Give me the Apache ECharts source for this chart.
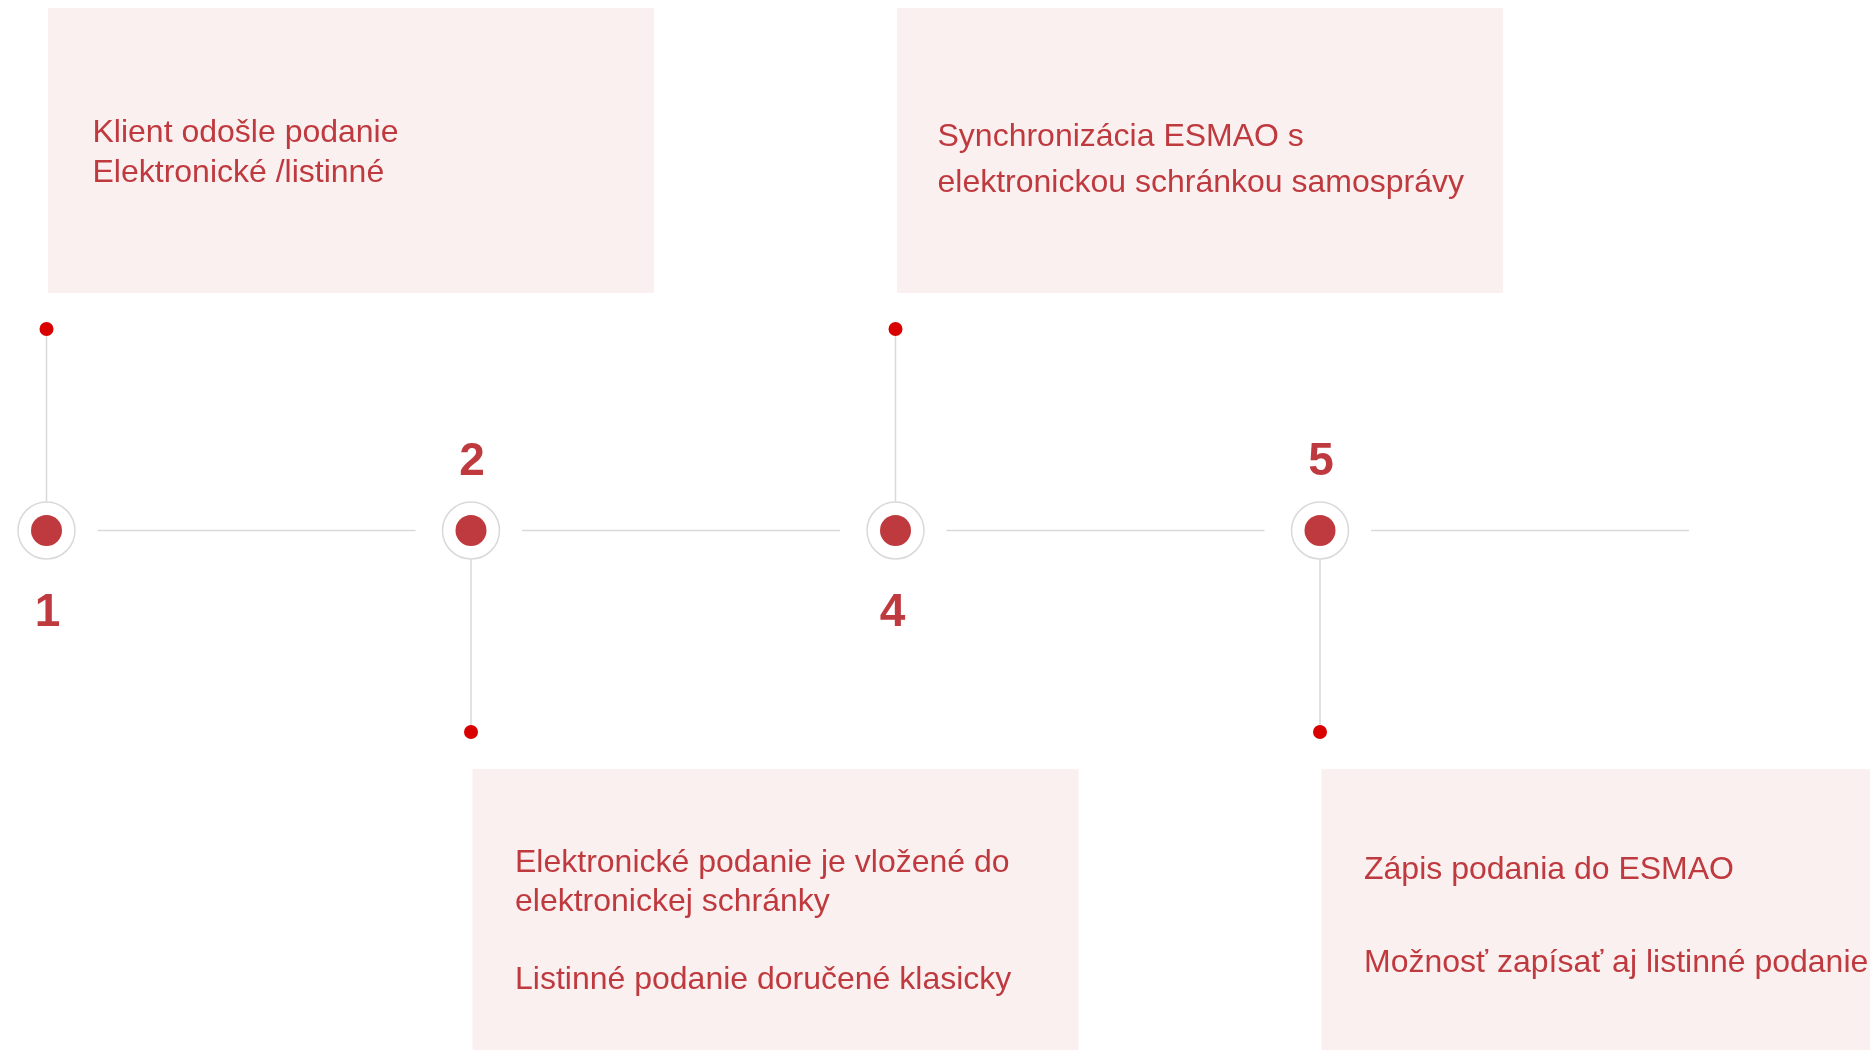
<!DOCTYPE html>
<html>
<head>
<meta charset="utf-8">
<title>Timeline</title>
<script src="https://cdn.jsdelivr.net/npm/echarts@6/dist/echarts.min.js"></script>
<style>
  html, body { margin: 0; padding: 0; background: #ffffff; }
  #main-chart { width: 1870px; height: 1050px; }
</style>
</head>
<body>
<div id="main-chart"></div>
<script>
// Steps of the filing process, shown as a horizontal timeline with callout cards

const stepNumbers = ['1', '2', '4', '5'];
const stepSlots = [0, 1, 2, 3];
// 1 = card above the line, -1 = card below the line
const calloutSide = [1, -1, 1, -1];
const calloutTexts = [
    'Klient odošle podanie\nElektronické /listinné',
    'Elektronické podanie je vložené do\nelektronickej schránky\n\nListinné podanie doručené klasicky',
    'Synchronizácia ESMAO s\nelektronickou schránkou samosprávy',
    'Zápis podania do ESMAO\n\nMožnosť zapísať aj listinné podanie'
];

document.addEventListener('DOMContentLoaded', function () {
    var myChart = echarts.init(document.getElementById('main-chart'));

    var red = '#bf3a3f';
    var grey = '#d9d9d9';
    var font = 'Liberation Sans, Arial, sans-serif';
    // per-card text line spacing and small vertical nudges
    var lineHeights = [40, 39, 46, 46.5];
    var textShift = [2.5, 10.5, 9.5, 5];
    var textIndent = [46, 44, 42, 44];

    function renderStep(params, api) {
        var i = params.dataIndex;
        var side = api.value(1);
        var up = side > 0;
        var c = api.coord([api.value(0), 0]);
        var d = api.coord([api.value(0), side]);
        var ringR = 28.5;
        var cardW = 606;
        var cardH = 285;
        var cardY = up ? d[1] - 36 - cardH : d[1] + 37;

        return {
            type: 'group',
            children: [
                {
                    type: 'rect',
                    shape: { x: c[0] + 1.5, y: cardY, width: cardW, height: cardH },
                    style: { fill: '#fbf0f0' }
                },
                {
                    type: 'text',
                    style: {
                        x: c[0] + textIndent[i],
                        y: cardY + cardH / 2 + textShift[i],
                        text: calloutTexts[i],
                        fill: red,
                        fontSize: 32,
                        fontFamily: font,
                        align: 'left',
                        verticalAlign: 'middle',
                        lineHeight: lineHeights[i]
                    }
                },
                {
                    type: 'line',
                    shape: { x1: c[0] + 51, y1: c[1], x2: c[0] + 369, y2: c[1] },
                    style: { stroke: grey, lineWidth: 1.5 }
                },
                {
                    type: 'line',
                    shape: { x1: c[0], y1: c[1] - side * ringR, x2: d[0], y2: d[1] },
                    style: { stroke: grey, lineWidth: 1.5 }
                },
                {
                    type: 'circle',
                    shape: { cx: c[0], cy: c[1], r: ringR },
                    style: { fill: '#ffffff', stroke: grey, lineWidth: 1.5 }
                },
                {
                    type: 'circle',
                    shape: { cx: c[0], cy: c[1], r: 15.5 },
                    style: { fill: red }
                },
                {
                    type: 'circle',
                    shape: { cx: d[0], cy: d[1], r: 7 },
                    style: { fill: '#d90000' }
                },
                {
                    type: 'text',
                    style: {
                        x: c[0] + (i === 2 ? -3 : 1),
                        y: c[1] + (up ? 83 : -68),
                        text: stepNumbers[i],
                        fill: red,
                        fontSize: 46,
                        fontWeight: 'bold',
                        fontFamily: font,
                        align: 'center',
                        verticalAlign: 'middle'
                    }
                }
            ]
        };
    }

    var option = {
        animation: false,
        backgroundColor: '#ffffff',
        grid: { left: 46.5, width: 1273.5, top: 329, height: 403 },
        xAxis: { type: 'value', min: 0, max: 3, show: false },
        yAxis: { type: 'value', min: -1, max: 1, show: false },
        series: [{
            type: 'custom',
            clip: false,
            renderItem: renderStep,
            data: stepSlots.map(function (s, i) { return [s, calloutSide[i]]; })
        }]
    };

    myChart.setOption(option);
});
</script>
</body>
</html>
